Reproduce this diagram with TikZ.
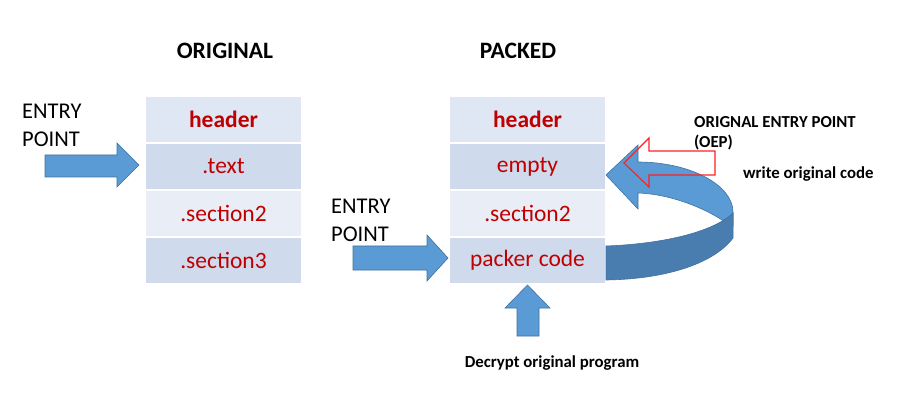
\documentclass[tikz,border=0pt]{standalone}
\usepackage{fontspec}
\setmainfont{Carlito}
\definecolor{blueA}{HTML}{5B9BD5}
\definecolor{blueDark}{HTML}{497DB0}
\definecolor{blueLine}{HTML}{41719C}
\definecolor{redtxt}{HTML}{C00000}
\definecolor{rowHead}{HTML}{DEE7F3}
\definecolor{rowDark}{HTML}{CFDAED}
\definecolor{rowLight}{HTML}{E8EDF6}
\definecolor{oepred}{HTML}{FF2020}
\begin{document}
\begin{tikzpicture}[x=1pt,y=-1pt,
  cell/.style={minimum width=157pt, minimum height=47pt, draw=white, line width=1.3pt,
    inner sep=0pt, text=redtxt, font=\fontsize{23.5}{27}\selectfont},
  headcell/.style={cell, fill=rowHead, font=\fontsize{23.5}{27}\selectfont\bfseries},
  title/.style={font=\fontsize{23.5}{27}\selectfont\bfseries, inner sep=0pt},
  plain/.style={font=\fontsize{22.5}{28}\selectfont, align=left, inner sep=0pt},
  note/.style={font=\fontsize{16.8}{20}\selectfont\bfseries, align=left, inner sep=0pt},
  blockarrow/.style={fill=blueA, draw=blueLine, line width=0.6pt, line join=miter}]
\useasboundingbox (0,0) rectangle (906,409);

% titles
\node[title] (torig) at (225,51) {ORIGINAL};
\node[title] (tpack) at (518,51) {PACKED};

% original stack
\node[headcell] (oh) at (223.5,119.5) {header};
\node[cell, fill=rowDark] (ot) at (223.5,166.5) {.text};
\node[cell, fill=rowLight] (os2) at (223.5,213.5) {.section2};
\node[cell, fill=rowDark] (os3) at (223.5,260.5) {.section3};

% packed stack
\node[headcell] (ph) at (527.5,119.5) {header};
\node[cell, fill=rowDark] (pe) at (527.5,166.5) {empty};
\node[cell, fill=rowLight] (ps2) at (527.5,213.5) {.section2};
\node[cell, fill=rowDark] (ppc) at (527.5,260.5) {packer code};

% entry point labels
\node[plain, anchor=west] (ep1) at (22,125) {ENTRY\\POINT};
\node[plain, anchor=west] (ep2) at (331,220.5) {ENTRY\\POINT};

% entry arrow (original)
\draw[blockarrow] (45,155) -- (117,155) -- (117,143) -- (139,165) -- (117,187) -- (117,177) -- (45,177) -- cycle;
% entry arrow (packed)
\draw[blockarrow] (353,246) -- (427,246) -- (427,235) -- (448,258) -- (427,281) -- (427,270) -- (353,270) -- cycle;
% up arrow
\draw[blockarrow] (517,336) -- (517,308) -- (505,308) -- (527.5,285) -- (550,308) -- (539,308) -- (539,336) -- cycle;

% curved arrow: back (light) part with head
\draw[blockarrow] (606,175) -- (638,145) -- (638,162)
  .. controls (690,162) and (733,185) .. (733,212) -- (733,226)
  -- (725,222) .. controls (705,208) and (670,194) .. (638,193)
  -- (638,209) -- cycle;
% front (dark) part
\draw[fill=blueDark, draw=blueLine, line width=0.6pt] (606,246)
  .. controls (660,244) and (712,233) .. (733,213) -- (733,238)
  .. controls (715,262) and (670,279) .. (606,280) -- cycle;

% red outlined arrow (OEP)
\draw[oepred, line width=1.1pt] (624,163) -- (649,138) -- (649,151) -- (715,151)
  -- (715,175) -- (649,175) -- (649,187) -- cycle;

% notes
\node[note, anchor=west] (oep) at (694,133) {ORIGNAL ENTRY POINT\\(OEP)};
\node[note, anchor=west] (woc) at (743,174) {write original code};
\node[note] (dec) at (552,363) {Decrypt original program};
\end{tikzpicture}
\end{document}
